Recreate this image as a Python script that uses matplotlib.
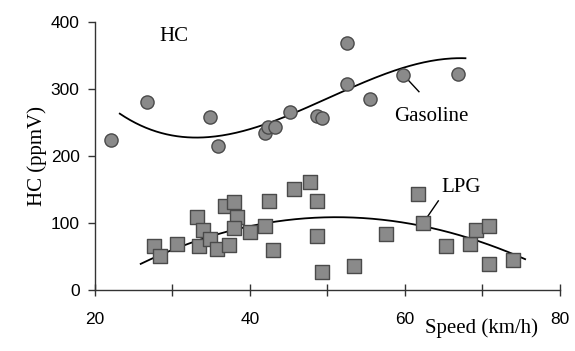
import numpy as np
import matplotlib.pyplot as plt

# Gasoline HC readings (circles)
gas_speed = [22.1, 26.7, 34.8, 35.9, 42.0, 42.3, 43.2, 45.2, 48.7, 49.3,
             52.5, 52.5, 55.5, 59.7, 66.9]
gas_hc = [224, 281, 258, 215, 235, 243, 243, 265, 260, 257,
          369, 307, 285, 321, 323]

# LPG HC readings (squares)
lpg_speed = [27.6, 28.4, 30.6, 33.2, 34.0, 33.4, 34.9, 35.8, 37.3, 36.8,
             37.9, 38.3, 37.9, 40.0, 42.0, 42.5, 43.0, 45.7, 47.7, 48.7,
             48.6, 49.3, 53.4, 57.5, 61.7, 62.3, 65.3, 68.4, 69.2, 70.8,
             70.9, 74.0]
lpg_hc = [65, 50, 69, 109, 90, 65, 76, 61, 67, 125,
          132, 109, 92, 86, 95, 133, 60, 151, 161, 133,
          81, 27, 36, 84, 144, 100, 66, 69, 90, 96,
          39, 45]

# trend line samples
gas_trend_x = [23.2, 26.7, 30.1, 34.0, 41.0, 46.5, 52.5, 59.4, 67.8]
gas_trend_y = [260, 244, 233, 230, 239, 264, 304, 331, 345]
lpg_trend_x = [25.9, 30.5, 35.3, 39.6, 43.9, 46.5, 51.6, 58.5, 62.3, 67.9, 75.5]
lpg_trend_y = [40, 60, 82, 96, 103, 105.5, 107, 104, 98.5, 75, 47]

serif = "Liberation Serif"
sans = "Liberation Sans"

fig = plt.figure(figsize=(5.75, 3.51), dpi=100)
ax = fig.add_axes([0.1652, 0.1738, 0.8087, 0.7635])

# cubic trend lines
for tx, ty in [(gas_trend_x, gas_trend_y), (lpg_trend_x, lpg_trend_y)]:
    coef = np.polyfit(tx, ty, 3)
    xs = np.linspace(min(tx), max(tx), 200)
    ax.plot(xs, np.polyval(coef, xs), color="black", lw=1.3, zorder=2)

ax.scatter(gas_speed, gas_hc, s=90, marker="o", facecolor="#8a8a8a",
           edgecolor="#4a4a4a", linewidth=1.0, zorder=3)
ax.scatter(lpg_speed, lpg_hc, s=90, marker="s", facecolor="#8a8a8a",
           edgecolor="#4a4a4a", linewidth=1.0, zorder=3)

ax.set_xlim(20, 80)
ax.set_ylim(0, 400)
ax.set_xticks([20, 40, 60, 80])
ax.set_xticks([30, 50, 70], minor=True)
ax.set_yticks([0, 100, 200, 300, 400])

for side in ["top", "right"]:
    ax.spines[side].set_visible(False)
for side in ["left", "bottom"]:
    ax.spines[side].set_color("#333333")
    ax.spines[side].set_linewidth(1.0)

ax.tick_params(axis="x", which="both", direction="inout", length=9,
               width=1.0, color="#333333", pad=11)
ax.tick_params(axis="y", direction="out", length=5, width=1.0,
               color="#333333", pad=6)
for lab in ax.get_xticklabels() + ax.get_yticklabels():
    lab.set_fontfamily(sans)
    lab.set_fontsize(12.5)

ax.set_ylabel("HC (ppmV)", fontfamily=serif, fontsize=15, labelpad=3)
ax.text(69.9, -57, "Speed (km/h)", fontfamily=serif, fontsize=15,
        ha="center", va="center", clip_on=False)

# annotations with leader lines
ax.text(30.2, 379, "HC", fontfamily=serif, fontsize=15,
        ha="center", va="center")
ax.text(63.4, 259, "Gasoline", fontfamily=serif, fontsize=15,
        ha="center", va="center")
ax.plot([60.2, 61.8], [316, 296], color="black", lw=1.0)
ax.text(67.3, 153, "LPG", fontfamily=serif, fontsize=15,
        ha="center", va="center")
ax.plot([62.7, 64.3], [106, 133], color="black", lw=1.0)

fig.savefig("out.png", dpi=100)
